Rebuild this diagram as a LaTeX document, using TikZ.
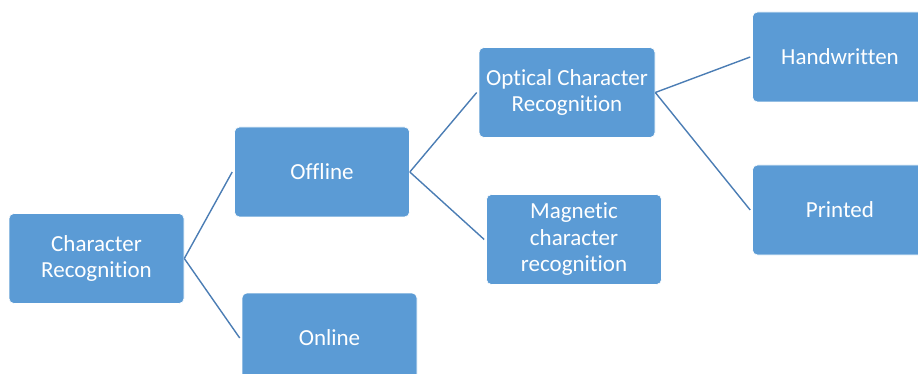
\documentclass[tikz,border=0pt]{standalone}
\usepackage{fontspec}
\setmainfont{Carlito}[Ligatures=NoCommon]
\usepackage{xcolor}
\usetikzlibrary{arrows.meta}
\definecolor{boxblue}{RGB}{91,155,213}
\definecolor{linkblue}{RGB}{75,125,180}

\begin{document}
\begin{tikzpicture}[x=1pt,y=-1pt,
	box/.style={fill=boxblue, draw=white, line width=0.6pt, rounded corners=5pt,
		minimum width=175pt, minimum height=90pt, text=white, align=center,
		font=\fontsize{23}{26.5}\selectfont, inner sep=0pt},
	link/.style={draw=linkblue, line width=1.4pt}]
	\clip (0, 0) rectangle (918, 374);
	\useasboundingbox (0, 0) rectangle (918, 374);

	\node [box] (cr) at (96.5, 258.5) {Character\\Recognition};

	\node [box] (off) at (322, 172) {Offline};
	\node [box] (on) at (329.5, 338) {Online};

	\node [box, minimum width=176pt] (ocr) at (567, 92.5) {Optical Character\\Recognition};
	\node [box] (mcr) at (574, 239.5) {Magnetic\\character\\recognition};

	\node [box] (hw) at (840, 57) {Handwritten};
	\node [box] (pr) at (840, 210) {Printed};

	\draw [link] (cr.east) -- ([xshift=-2pt]off.west);
	\draw [link] (cr.east) -- ([xshift=-2pt]on.west);
	\draw [link] (off.east) -- ([xshift=-2pt]ocr.west);
	\draw [link] (off.east) -- ([xshift=-2pt]mcr.west);
	\draw [link] (ocr.east) -- ([xshift=-2pt]hw.west);
	\draw [link] (ocr.east) -- ([xshift=-2pt]pr.west);
\end{tikzpicture}
\end{document}
